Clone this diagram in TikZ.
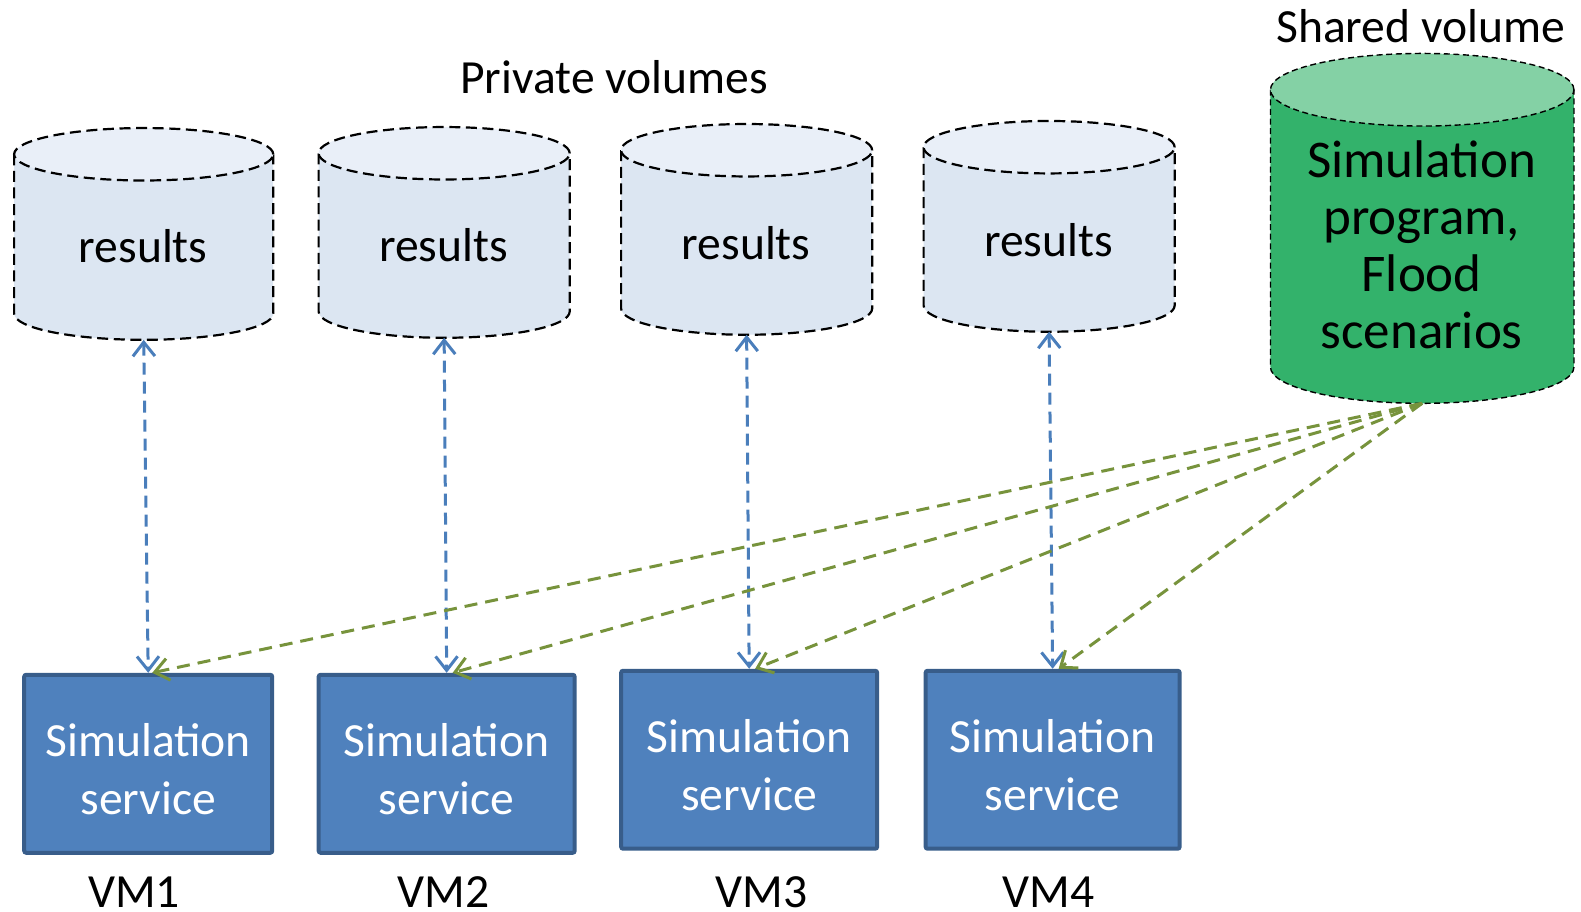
\documentclass[tikz,border=0pt]{standalone}
\usepackage{fontspec}
\setmainfont{Carlito}
\usetikzlibrary{arrows.meta}
\definecolor{volbody}{HTML}{DCE6F2}
\definecolor{voltop}{HTML}{E9EFF8}
\definecolor{shbody}{HTML}{33B26B}
\definecolor{shtop}{HTML}{84D1A5}
\definecolor{svcfill}{HTML}{4F81BD}
\definecolor{svcline}{HTML}{385D8A}
\definecolor{linkblue}{HTML}{4A7EBB}
\definecolor{linkgreen}{HTML}{77933C}

% #1 name, #2 left, #3 right, #4 top, #5 bottom, #6 cap radius, #7 body, #8 cap, #9 outline style
\newcommand\volume[9]{%
  \pgfmathsetmacro\vcx{(#2+#3)/2}%
  \pgfmathsetmacro\vrx{(#3-#2)/2}%
  \fill[#7] (#2,-#4-#6) -- (#2,-#5+#6)
     arc[start angle=180,end angle=360,x radius=\vrx,y radius=#6]
     -- (#3,-#4-#6) -- cycle;
  \draw[#9] (#2,-#4-#6) -- (#2,-#5+#6)
     arc[start angle=180,end angle=360,x radius=\vrx,y radius=#6]
     -- (#3,-#4-#6);
  \filldraw[fill=#8,#9] (\vcx,-#4-#6) ellipse[x radius=\vrx,y radius=#6];
  \coordinate (#1) at (\vcx,-#5);
}

\begin{document}
\begin{tikzpicture}[x=0.5042pt,y=0.5042pt,
  txt/.style={font=\fontsize{23.8}{28.7}\selectfont, inner sep=0pt},
  voledge/.style={draw=black,line width=1.1pt,dash pattern=on 5.5pt off 2.8pt},
  shedge/.style={draw=black,line width=0.7pt,dash pattern=on 3pt off 1.8pt},
  service/.style={rectangle, fill=svcfill, draw=svcline, line width=2pt,
    rounded corners=1pt, minimum height=89pt, inner sep=0pt},
  svctext/.style={txt, text=white, align=center},
  access/.style={linkblue, line width=1.5pt, dash pattern=on 6pt off 3.5pt,
    {Straight Barb[length=7pt,width=11pt]}-{Straight Barb[length=7pt,width=11pt]}},
  feed/.style={linkgreen, line width=1.5pt, dash pattern=on 6.5pt off 4pt,
    -{Straight Barb[length=7pt,width=11pt]}}
]
\useasboundingbox (0,0) rectangle (1568,-904);

% private volumes
\volume{v1}{14}{271}{127}{337}{26}{volbody}{voltop}{voledge}
\volume{v2}{316}{565}{126}{335}{26}{volbody}{voltop}{voledge}
\volume{v3}{616}{865}{123}{332}{26}{volbody}{voltop}{voledge}
\volume{v4}{916}{1165}{120}{329}{26}{volbody}{voltop}{voledge}
\node[txt, anchor=base] (r1) at (142,-260) {results};
\node[txt, anchor=base] (r2) at (440,-259) {results};
\node[txt, anchor=base] (r3) at (740,-257) {results};
\node[txt, anchor=base] (r4) at (1040,-254) {results};
\node[txt, anchor=base] (ptitle) at (609,-93) {Private volumes};

% shared volume
\volume{sh}{1260}{1561}{53}{400}{36}{shbody}{shtop}{shedge}
\node[font=\fontsize{26.5}{28.5}\selectfont, inner sep=0pt, align=center] (shtext) at (1410,-243)
  {Simulation\\program,\\Flood\\scenarios};
\node[txt, anchor=base] (stitle) at (1409,-42) {Shared volume};

% simulation services
\node[service, minimum width=124pt] (b1) at (147,-757.5) {};
\node[service, minimum width=128pt] (b2) at (443,-757.5) {};
\node[service, minimum width=128pt] (b3) at (743,-753.5) {};
\node[service, minimum width=127pt] (b4) at (1044,-753.5) {};
\node[svctext] (t1) at (147,-763) {Simulation\\service};
\node[svctext] (t2) at (443,-763) {Simulation\\service};
\node[svctext] (t3) at (743,-759) {Simulation\\service};
\node[svctext] (t4) at (1044,-759) {Simulation\\service};

\node[txt, anchor=base] (vm1) at (133,-900) {VM1};
\node[txt, anchor=base] (vm2) at (440,-900) {VM2};
\node[txt, anchor=base] (vm3) at (755,-900) {VM3};
\node[txt, anchor=base] (vm4) at (1040,-900) {VM4};

% read/write links to private volumes
\draw[access] (v1) -- (b1.north);
\draw[access] (v2) -- (b2.north);
\draw[access] (v3) -- (b3.north);
\draw[access] (v4) -- (b4.north);

% shared volume links
\draw[feed] (sh) -- ([xshift=2pt]b1.north);
\draw[feed] (sh) -- ([xshift=3pt]b2.north);
\draw[feed] (sh) -- ([xshift=3pt]b3.north);
\draw[feed] (sh) -- ([xshift=3pt]b4.north);
\end{tikzpicture}
\end{document}
